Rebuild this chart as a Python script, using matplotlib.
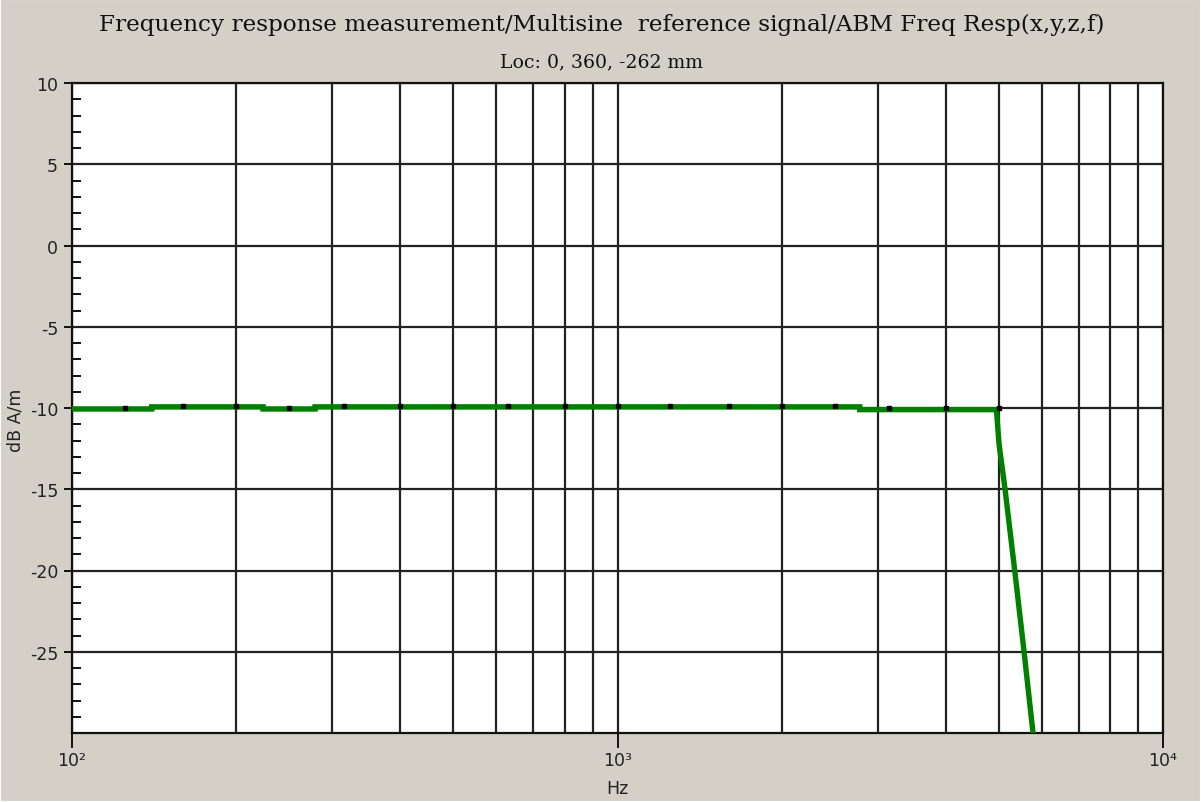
import numpy as np
import matplotlib
matplotlib.use("Agg")
import matplotlib.pyplot as plt
from matplotlib.ticker import FixedLocator, NullFormatter, MultipleLocator, LogLocator
from matplotlib.patches import Rectangle

plt.rcParams["axes.unicode_minus"] = False

# ---- data ----
band_freqs = [125, 160, 200, 250, 315, 400, 500, 630, 800, 1000, 1250,
              1600, 2000, 2500, 3150, 4000, 5000]
band_db = [-10.0, -9.85, -9.88, -10.0, -9.86, -9.88, -9.88, -9.85, -9.88,
           -9.88, -9.85, -9.85, -9.88, -9.85, -10.0, -10.0, -10.0]

curve_freqs = [100, 140, 140, 224, 224, 279, 279, 2780, 2780, 4950,
               5005, 5134, 5348, 5563, 5777, 5870]
curve_db = [-10.06, -10.06, -9.93, -9.93, -10.06, -10.06, -9.93, -9.93,
            -10.1, -10.1, -12.2, -15.0, -20.0, -25.0, -30.0, -32.0]

y_major = [-25, -20, -15, -10, -5, 0, 5, 10]
x_major = [100, 1000, 10000]
x_labels = ["10\u00b2", "10\u00b3", "10\u2074"]

title = "Frequency response measurement/Multisine  reference signal/ABM Freq Resp(x,y,z,f)"
subtitle = "Loc: 0, 360, -262 mm"
xlabel = "Hz"
ylabel = "dB A/m"

# ---- figure ----
W, H = 1201, 803
bg = "#d4d0c8"
fig = plt.figure(figsize=(W / 100, H / 100), dpi=100, facecolor=bg)

def fx(px):
    return px / W

def fy(py):
    return 1 - py / H

L, R, T, B = 72, 1163, 84, 734
ax = fig.add_axes([fx(L), fy(B), fx(R) - fx(L), (B - T) / H])
ax.set_facecolor("white")
ax.set_xscale("log")
ax.set_xlim(100, 10000)
ax.set_ylim(-30, 10)

# grid
ax.xaxis.set_major_locator(FixedLocator(x_major))
ax.xaxis.set_minor_locator(LogLocator(base=10, subs=np.arange(2, 10)))
ax.xaxis.set_minor_formatter(NullFormatter())
ax.set_xticks(x_major)
ax.set_xticklabels(x_labels)
ax.yaxis.set_major_locator(FixedLocator(y_major))
ax.yaxis.set_minor_locator(MultipleLocator(1))

gridc = "#222222"
ax.grid(True, which="major", axis="both", color=gridc, lw=1.6)
ax.grid(True, which="minor", axis="x", color=gridc, lw=1.6)
ax.set_axisbelow(True)

for s in ax.spines.values():
    s.set_color("#111111")
    s.set_linewidth(1.6)

ax.tick_params(axis="y", which="major", direction="out", length=5.5, width=1.4,
               pad=4.5, colors="#111111", labelsize=12.5)
ax.tick_params(axis="y", which="minor", direction="in", length=6.5, width=1.4,
               colors="#111111")
ax.tick_params(axis="x", which="major", direction="out", length=10.5, width=1.4,
               pad=2.5, colors="#111111", labelsize=12.5)
ax.tick_params(axis="x", which="minor", length=0)
for lab in ax.get_xticklabels() + ax.get_yticklabels():
    lab.set_color("#222222")
    lab.set_family(["DejaVu Sans"])

# curve
ax.plot(curve_freqs, curve_db, color="#008000", lw=3.9, solid_capstyle="butt",
        solid_joinstyle="miter", zorder=3)
ax.plot(band_freqs, band_db, linestyle="none", marker="s", markersize=3.5,
        color="black", zorder=4)

# texts
fig.text(fx(602), fy(31), title, ha="center", va="baseline",
         family=["DejaVu Serif"], fontsize=16.7, color="#111111")
fig.text(fx(602), fy(67), subtitle, ha="center", va="baseline",
         family=["DejaVu Serif"], fontsize=13.6, color="#111111")
fig.text(fx(617), fy(789), xlabel, ha="center", va="center",
         family=["DejaVu Sans"], fontsize=12.5, color="#222222")
fig.text(fx(15), fy(420), ylabel, ha="center", va="center", rotation=90,
         family=["DejaVu Sans"], fontsize=12.5, color="#222222")

# light window border
fig.patches.append(Rectangle((0, 0), 1, 1, transform=fig.transFigure,
                             fill=False, edgecolor="white", lw=1.5))

fig.savefig("out.png", dpi=100, facecolor=bg)
